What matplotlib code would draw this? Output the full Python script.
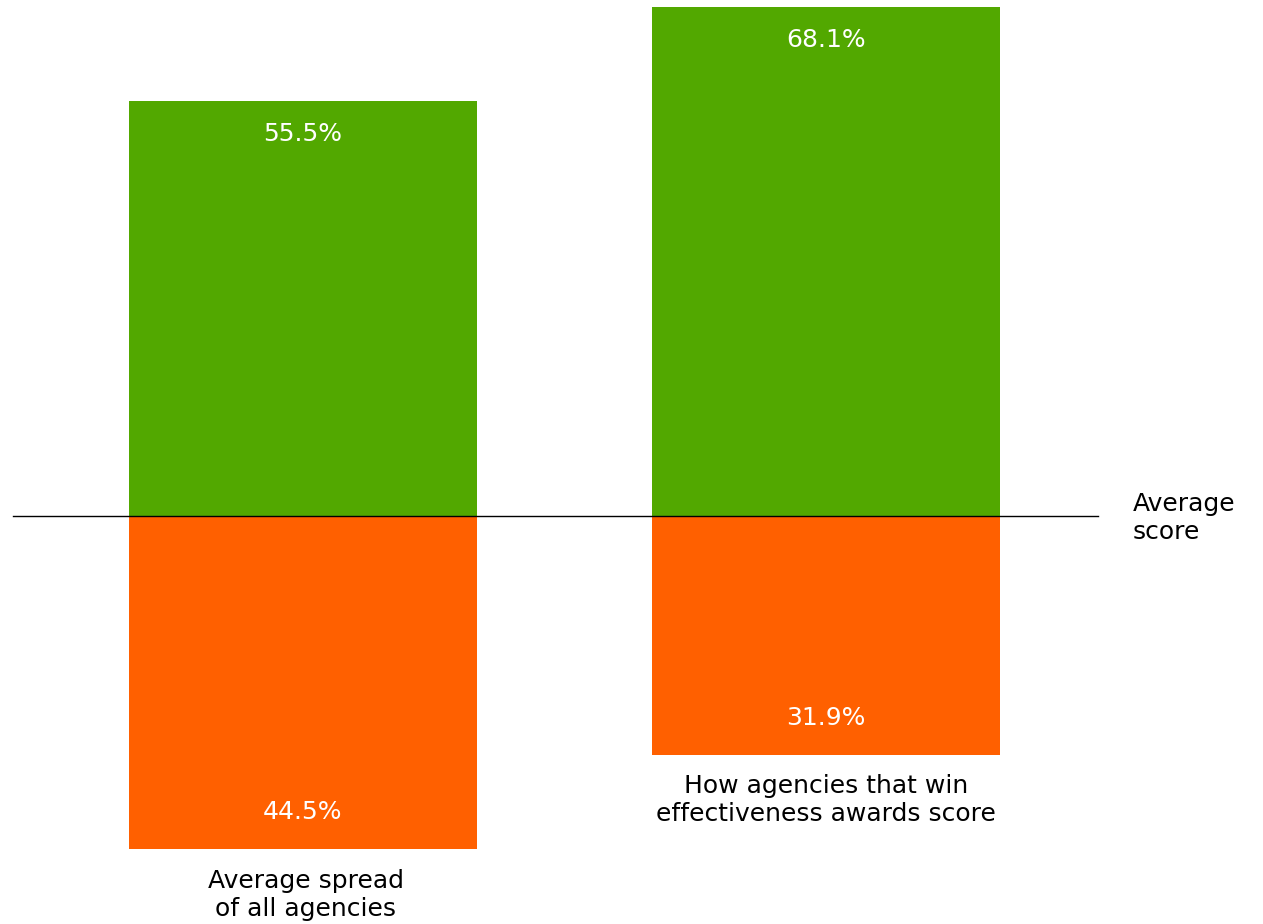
import matplotlib
matplotlib.use("Agg")
import matplotlib.pyplot as plt

categories = ["Average spread\nof all agencies", "How agencies that win\neffectiveness awards score"]
above = [55.5, 68.1]
below = [44.5, 31.9]
green = "#52A800"
orange = "#FF6000"

plt.rcParams['font.family'] = ['DejaVu Sans']

fig = plt.figure(figsize=(12.63, 9.24), dpi=100)
ax = fig.add_axes([0, 0, 1, 1])
ppu = 7.48  # pixels per percent
x = [0, 1]
w = 348 / 523
ax.bar(x, above, width=w, color=green, bottom=0)
ax.bar(x, [-b for b in below], width=w, color=orange, bottom=0)

ax.set_xlim(-303 / 523, (1263 - 303) / 523)
ax.set_ylim(-(924 - 516) / ppu, 516 / ppu)

x0 = (13 - 303) / 523
x1 = (1098 - 303) / 523
ax.plot([x0, x1], [0, 0], color="black", lw=1)

for xi, a, b in zip(x, above, below):
    ax.text(xi, a - 33 / ppu, f"{a}%", ha="center", va="center", color="white", fontsize=18)
    ax.text(xi, -b + 37 / ppu, f"{b}%", ha="center", va="center", color="white", fontsize=18)

ax.text(0.005, -(895 - 516) / ppu, categories[0], ha="center", va="center", fontsize=18, linespacing=1.25)
ax.text(1.0, -(800 - 516) / ppu, categories[1], ha="center", va="center", fontsize=18, linespacing=1.25)
ax.text((1133 - 303) / 523, -(518 - 516) / ppu, "Average\nscore", ha="left", va="center", fontsize=18, linespacing=1.25)

ax.axis("off")
fig.savefig("out.png", dpi=100)
